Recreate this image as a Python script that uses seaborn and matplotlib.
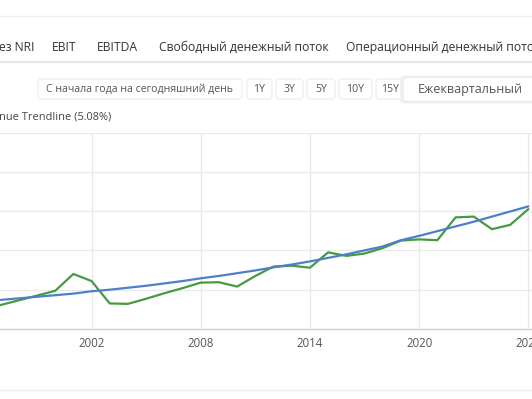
import matplotlib
matplotlib.use('Agg')
import matplotlib.pyplot as plt
from matplotlib.patches import FancyBboxPatch
import seaborn as sns
import pandas as pd

# chart data (units are arbitrary, gridlines every 10)
years = list(range(1997, 2027))
revenue = [6.1, 7.3, 8.5, 9.7, 14.0, 12.2, 6.5, 6.4, 7.7, 9.1,
           10.4, 11.8, 11.9, 10.8, 13.5, 15.9, 16.1, 15.6, 19.5, 18.6,
           19.2, 20.6, 22.5, 22.8, 22.6, 28.4, 28.6, 25.4, 26.5, 30.5]
trendline = [7.4, 7.8, 8.2, 8.6, 9.0, 9.6, 10.0, 10.5, 11.0, 11.6,
             12.2, 12.9, 13.5, 14.2, 14.9, 15.7, 16.4, 17.2, 18.1, 19.0,
             20.0, 21.0, 22.6, 23.7, 24.9, 26.1, 27.3, 28.6, 29.9, 31.2]
x_ticks = [2002, 2008, 2014, 2020, 2026]
y_ticks = [0, 10, 20, 30, 40, 50]

tabs = ['ез NRI', 'EBIT', 'EBITDA', 'Свободный денежный поток', 'Операционный денежный пото']
periods = ['С начала года на сегодняшний день', '1Y', '3Y', '5Y', '10Y', '15Y']
frequency = 'Ежеквартальный'
legend_text = 'nue Trendline (5.08%)'

df = pd.DataFrame({'year': years, 'revenue': revenue, 'trend': trendline})

sns.set_theme(style='white')
plt.rcParams['font.family'] = ['Open Sans', 'DejaVu Sans']

W, H = 532, 399
fig = plt.figure(figsize=(W / 100, H / 100), dpi=100)
fig.patch.set_facecolor('white')

# page overlay in pixel coordinates
ui = fig.add_axes([0, 0, 1, 1])
ui.set_xlim(0, W)
ui.set_ylim(H, 0)
ui.axis('off')

ui.plot([0, W], [16, 16], color='#efefef', lw=1)
ui.plot([0, W], [61.5, 61.5], color='#e6e6e6', lw=1.6)
ui.plot([0, W], [390, 390], color='#eeeeee', lw=1)

# tabs row
tab_x = [-1, 52, 97, 159, 346]
for label, x in zip(tabs, tab_x):
    ui.text(x, 47.5, label, fontsize=8.7, color='#333333', ha='left', va='center')

# period buttons
boxes = [(38, 242), (247, 272), (276, 303), (307, 335), (339, 372), (376, 404)]
for label, (x0, x1) in zip(periods, boxes):
    ui.add_patch(FancyBboxPatch((x0, 79), x1 - x0, 20,
                                boxstyle='round,pad=0,rounding_size=3',
                                fc='white', ec='#ececec', lw=0.8))
    ui.text((x0 + x1) / 2, 89.5, label, fontsize=7.6, color='#555555',
            ha='center', va='center')

# frequency dropdown with soft shadow
ui.add_patch(FancyBboxPatch((400, 75.5), 140, 28, boxstyle='round,pad=0,rounding_size=4',
                            fc='#f0f0f0', ec='none', alpha=0.9))
ui.add_patch(FancyBboxPatch((403, 77.5), 140, 24, boxstyle='round,pad=0,rounding_size=4',
                            fc='white', ec='#e8e8e8', lw=0.8))
ui.text(418, 90, frequency, fontsize=9, color='#555555', ha='left', va='center')

ui.text(-1, 117, legend_text, fontsize=7.9, color='#444444', ha='left', va='center')

# chart area
ax = fig.add_axes([0, (H - 329) / H, 1, (329 - 132.5) / H])
ax.set_facecolor('none')
sns.lineplot(data=df, x='year', y='revenue', ax=ax, color='#469a42', lw=1.6)
sns.lineplot(data=df, x='year', y='trend', ax=ax, color='#4d80c8', lw=1.6)

ax.set_xlim(1996.97, 2026.2)
ax.set_ylim(0, 50)
ax.set_xticks(x_ticks)
ax.set_yticks(y_ticks)
ax.set_xlabel('')
ax.set_ylabel('')
ax.grid(True, color='#e9e9e9', lw=0.9)
ax.set_axisbelow(True)
for side in ['top', 'left', 'right']:
    ax.spines[side].set_visible(False)
ax.spines['bottom'].set_color('#cfcfcf')
ax.spines['bottom'].set_linewidth(1)
ax.tick_params(axis='x', length=0, pad=6, labelsize=8.3, labelcolor='#555555')
ax.tick_params(axis='y', length=0, labelleft=False)

fig.savefig('out.png', dpi=100, facecolor='white')
